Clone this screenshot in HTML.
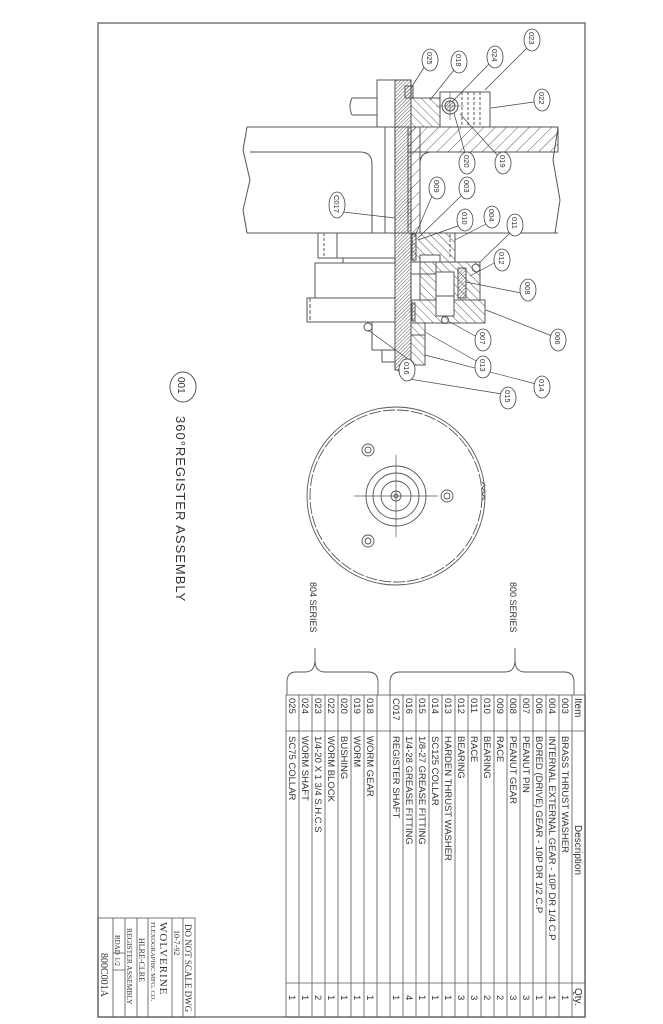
<!DOCTYPE html>
<html><head><meta charset="utf-8"><style>
html,body{margin:0;padding:0;background:#fff;}
svg{display:block;}
text{fill:#333;}
</style></head><body>
<svg width="663" height="1024" viewBox="0 0 663 1024" xmlns="http://www.w3.org/2000/svg" font-family="Liberation Sans, sans-serif">
<defs>
<pattern id="h1" patternUnits="userSpaceOnUse" width="8" height="8" patternTransform="rotate(45)"><line x1="0" y1="0" x2="0" y2="8" stroke="#333" stroke-width="0.8"/></pattern>
<pattern id="h2" patternUnits="userSpaceOnUse" width="6" height="6" patternTransform="rotate(-45)"><line x1="0" y1="0" x2="0" y2="6" stroke="#333" stroke-width="0.8"/></pattern>
<pattern id="hd" patternUnits="userSpaceOnUse" width="2.5" height="2.5" patternTransform="rotate(45)"><line x1="0" y1="0" x2="0" y2="2.5" stroke="#444" stroke-width="0.9"/></pattern>
</defs>
<g fill="none" stroke="#555" stroke-width="1">
<rect x="98" y="23" width="487" height="994" stroke="#777" stroke-width="1.5"/>
<path d="M247 127 L558 127"/>
<path d="M247 233 L558 233"/>
<path d="M247 127 L243 150 L250 180 L243 210 L247 233"/>
<path d="M558 127 L553 160 L560 200 L555 233"/>
<path d="M250 152 L360 152 Q372 152 372 164 L372 233"/>
<path d="M385 127 L385 233"/>
<rect x="408" y="127" width="150" height="25" fill="url(#h1)"/>
<rect x="408" y="127" width="12" height="106" fill="url(#h1)"/>
<path d="M420 233 L420 164 Q420 152 432 152 L558 152"/>
<rect x="395" y="80" width="16" height="290" fill="url(#hd)" stroke="#444"/>
<path d="M398 370 L403 378 L408 370"/>
<rect x="377" y="80" width="18" height="47"/>
<path d="M352 98 L377 98 M352 115 L377 115 M352 98 Q348 106 352 115"/>
<rect x="405" y="86" width="8" height="12" fill="url(#hd)"/>
<path d="M411 98 L448 98 L448 127 L411 127 Z" fill="url(#h2)"/>
<rect x="440" y="92" width="50" height="35" fill="#fff"/>
<path d="M462 92 L462 127 M468 92 L468 127 M474 92 L474 127 M480 92 L480 127" stroke-dasharray="3 2"/>
<circle cx="450" cy="106" r="8"/><circle cx="450" cy="106" r="5" fill="url(#hd)"/>
<path d="M436 106 L464 106 M450 92 L450 120" stroke-width="0.6"/>
<rect x="337" y="233" width="58" height="25"/>
<path d="M318 233 L318 258 M324 233 L324 258" stroke-dasharray="3 2"/>
<rect x="318" y="233" width="19" height="25"/>
<rect x="315" y="263" width="80" height="35"/>
<path d="M343 258 L343 263"/>
<rect x="307" y="298" width="88" height="24"/>
<path d="M310 298 L310 322" stroke-dasharray="4 2"/>
<rect x="372" y="322" width="23" height="28"/>
<rect x="382" y="350" width="13" height="12"/>
<circle cx="368" cy="327" r="4"/>
<path d="M411 233 L455 233 L455 262 L440 262 L440 255 L420 255 L420 262 L411 262 Z" fill="url(#h2)"/>
<rect x="412" y="234" width="4" height="26" fill="url(#hd)"/>
<path d="M450 234 L450 258" stroke-dasharray="3 2"/>
<rect x="411" y="262" width="25" height="12"/>
<path d="M420 262 L480 262 L480 300 L420 300 Z" fill="url(#h2)"/>
<rect x="436" y="272" width="18" height="40" fill="#fff"/>
<rect x="458" y="268" width="8" height="30" fill="url(#hd)"/>
<circle cx="476" cy="268" r="4"/>
<path d="M411 300 L485 300 L485 323 L411 323 Z" fill="url(#h2)"/>
<rect x="436" y="296" width="18" height="20" fill="#fff"/>
<circle cx="445" cy="320" r="3.5"/>
<rect x="411" y="323" width="14" height="12" fill="url(#h2)"/>
<rect x="411" y="335" width="14" height="30" fill="url(#h2)"/>
<rect x="412" y="303" width="3" height="18" fill="url(#hd)"/>
<g stroke="#444" stroke-width="0.7">
<line x1="425" y1="66" x2="411" y2="88"/>
<line x1="454" y1="70" x2="430" y2="100"/>
<line x1="490" y1="63" x2="452" y2="102"/>
<line x1="527" y1="48" x2="485" y2="90"/>
<line x1="534" y1="102" x2="491" y2="108"/>
<line x1="465" y1="153" x2="454" y2="113"/>
<line x1="498" y1="156" x2="460" y2="114"/>
<line x1="343" y1="212" x2="395" y2="218"/>
<line x1="432" y1="196" x2="415" y2="236"/>
<line x1="461" y1="196" x2="418" y2="238"/>
<line x1="458" y1="226" x2="418" y2="240"/>
<line x1="486" y1="224" x2="455" y2="240"/>
<line x1="510" y1="233" x2="480" y2="262"/>
<line x1="496" y1="262" x2="470" y2="276"/>
<line x1="521" y1="293" x2="466" y2="282"/>
<line x1="552" y1="336" x2="486" y2="310"/>
<line x1="477" y1="337" x2="450" y2="322"/>
<line x1="478" y1="362" x2="425" y2="332"/>
<line x1="536" y1="384" x2="425" y2="355"/>
<line x1="502" y1="394" x2="403" y2="378"/>
<line x1="412" y1="362" x2="368" y2="330"/>
</g>
</g>
<g fill="#fff" stroke="#444" stroke-width="0.8">
<ellipse cx="430" cy="60" rx="8" ry="11"/><ellipse cx="459" cy="62" rx="8" ry="11"/>
<ellipse cx="495" cy="57" rx="8" ry="11"/><ellipse cx="532" cy="40" rx="8" ry="11"/>
<ellipse cx="542" cy="100" rx="8" ry="11"/><ellipse cx="467" cy="163" rx="8" ry="11"/>
<ellipse cx="503" cy="163" rx="8" ry="11"/><ellipse cx="337" cy="205" rx="8" ry="13"/>
<ellipse cx="437" cy="188" rx="8" ry="11"/><ellipse cx="467" cy="188" rx="8" ry="11"/>
<ellipse cx="465" cy="220" rx="8" ry="11"/><ellipse cx="492" cy="217" rx="8" ry="11"/>
<ellipse cx="515" cy="225" rx="8" ry="11"/><ellipse cx="502" cy="260" rx="8" ry="11"/>
<ellipse cx="528" cy="290" rx="8" ry="11"/><ellipse cx="558" cy="340" rx="8" ry="11"/>
<ellipse cx="483" cy="340" rx="8" ry="11"/><ellipse cx="483" cy="367" rx="8" ry="11"/>
<ellipse cx="542" cy="387" rx="8" ry="11"/><ellipse cx="508" cy="398" rx="8" ry="11"/>
<ellipse cx="407" cy="370" rx="8" ry="11"/>
</g>
<g font-size="7.5">
<text transform="translate(427,52) rotate(90)">025</text>
<text transform="translate(456,54) rotate(90)">018</text>
<text transform="translate(492,49) rotate(90)">024</text>
<text transform="translate(529,32) rotate(90)">023</text>
<text transform="translate(539,92) rotate(90)">022</text>
<text transform="translate(464,155) rotate(90)">020</text>
<text transform="translate(500,155) rotate(90)">019</text>
<text transform="translate(334,195) rotate(90)">C017</text>
<text transform="translate(434,180) rotate(90)">009</text>
<text transform="translate(464,180) rotate(90)">003</text>
<text transform="translate(462,212) rotate(90)">010</text>
<text transform="translate(489,209) rotate(90)">004</text>
<text transform="translate(512,217) rotate(90)">011</text>
<text transform="translate(499,252) rotate(90)">012</text>
<text transform="translate(525,282) rotate(90)">008</text>
<text transform="translate(555,332) rotate(90)">006</text>
<text transform="translate(480,332) rotate(90)">007</text>
<text transform="translate(480,359) rotate(90)">013</text>
<text transform="translate(539,379) rotate(90)">014</text>
<text transform="translate(505,390) rotate(90)">015</text>
<text transform="translate(404,362) rotate(90)">016</text>
</g>
<ellipse cx="183" cy="387" rx="13" ry="15" fill="none" stroke="#555"/>
<text transform="translate(178,377) rotate(90)" font-size="10">001</text>
<text transform="translate(176,416) rotate(90)" font-size="13" letter-spacing="1">360°REGISTER ASSEMBLY</text>
<g fill="none" stroke="#555" stroke-width="0.9">
<circle cx="396" cy="496" r="89"/><circle cx="396" cy="496" r="86" stroke-dasharray="12 2"/>
<circle cx="396" cy="496" r="30"/><circle cx="396" cy="496" r="23"/><circle cx="396" cy="496" r="15"/>
<circle cx="396" cy="496" r="5"/><circle cx="396" cy="496" r="2"/>
<path d="M354 496 L438 496 M396 455 L396 537" stroke-width="0.7"/>
<circle cx="368" cy="450" r="6"/><circle cx="368" cy="450" r="3"/>
<circle cx="368" cy="541" r="6"/><circle cx="368" cy="541" r="3"/>
<circle cx="447" cy="496" r="6"/><circle cx="447" cy="496" r="3"/>
<path d="M482 482 l3 3 l-3 3 l3 3 l-3 3 l3 3 l-3 3"/>
</g>
<text transform="translate(510,582) rotate(90)" font-size="9">800 SERIES</text>
<text transform="translate(310,582) rotate(90)" font-size="9">804 SERIES</text>
<g fill="none" stroke="#555" stroke-width="0.9">
<path d="M390 695 L390 682 Q390 672 400 672 L505 672 Q515 672 515 660 L515 648 M515 660 Q515 672 525 672 L564 672 Q574 672 574 682 L574 695"/>
<path d="M378 695 L378 682 Q378 672 368 672 L325 672 Q315 672 315 660 L315 648 M315 660 Q315 672 305 672 L296 672 Q287 672 287 682 L287 695"/>
</g>
<g stroke="#555" stroke-width="0.8" fill="none">
<rect x="286" y="695" width="299" height="322"/>
<line x1="286" y1="731" x2="585" y2="731"/>
<line x1="286" y1="983" x2="585" y2="983"/>
<path d="M572 695V1017 M559 695V1017 M546 695V1017 M533 695V1017 M520 695V1017 M507 695V1017 M494 695V1017 M481 695V1017 M468 695V1017 M455 695V1017 M442 695V1017 M429 695V1017 M416 695V1017 M403 695V1017 M390 695V1017 M377 695V1017 M364 695V1017 M351 695V1017 M338 695V1017 M325 695V1017 M312 695V1017 M299 695V1017"/>
</g>
<g font-size="9.5">
<text transform="translate(575,698) rotate(90)" font-size="10">Item</text>
<text transform="translate(575,825) rotate(90)" font-size="10">Description</text>
<text transform="translate(575,988) rotate(90)" font-size="10">Qty.</text>
<text transform="translate(562,698) rotate(90)">003</text><text transform="translate(562,736) rotate(90)">BRASS THRUST WASHER</text><text transform="translate(562,995) rotate(90)">1</text>
<text transform="translate(549,698) rotate(90)">004</text><text transform="translate(549,736) rotate(90)">INTERNAL EXTERNAL GEAR - 10P DR 1/4 C.P</text><text transform="translate(549,995) rotate(90)">1</text>
<text transform="translate(536,698) rotate(90)">006</text><text transform="translate(536,736) rotate(90)">BORED (DRIVE) GEAR - 10P DR 1/2 C.P</text><text transform="translate(536,995) rotate(90)">1</text>
<text transform="translate(523,698) rotate(90)">007</text><text transform="translate(523,736) rotate(90)">PEANUT PIN</text><text transform="translate(523,995) rotate(90)">3</text>
<text transform="translate(510,698) rotate(90)">008</text><text transform="translate(510,736) rotate(90)">PEANUT GEAR</text><text transform="translate(510,995) rotate(90)">3</text>
<text transform="translate(497,698) rotate(90)">009</text><text transform="translate(497,736) rotate(90)">RACE</text><text transform="translate(497,995) rotate(90)">2</text>
<text transform="translate(484,698) rotate(90)">010</text><text transform="translate(484,736) rotate(90)">BEARING</text><text transform="translate(484,995) rotate(90)">2</text>
<text transform="translate(471,698) rotate(90)">011</text><text transform="translate(471,736) rotate(90)">RACE</text><text transform="translate(471,995) rotate(90)">3</text>
<text transform="translate(458,698) rotate(90)">012</text><text transform="translate(458,736) rotate(90)">BEARING</text><text transform="translate(458,995) rotate(90)">3</text>
<text transform="translate(445,698) rotate(90)">013</text><text transform="translate(445,736) rotate(90)">HARDEN THRUST WASHER</text><text transform="translate(445,995) rotate(90)">1</text>
<text transform="translate(432,698) rotate(90)">014</text><text transform="translate(432,736) rotate(90)">SC125 COLLAR</text><text transform="translate(432,995) rotate(90)">1</text>
<text transform="translate(419,698) rotate(90)">015</text><text transform="translate(419,736) rotate(90)">1/8-27 GREASE FITTING</text><text transform="translate(419,995) rotate(90)">1</text>
<text transform="translate(406,698) rotate(90)">016</text><text transform="translate(406,736) rotate(90)">1/4-28 GREASE FITTING</text><text transform="translate(406,995) rotate(90)">4</text>
<text transform="translate(393,698) rotate(90)">C017</text><text transform="translate(393,736) rotate(90)">REGISTER SHAFT</text><text transform="translate(393,995) rotate(90)">1</text>
<text transform="translate(367,698) rotate(90)">018</text><text transform="translate(367,736) rotate(90)">WORM GEAR</text><text transform="translate(367,995) rotate(90)">1</text>
<text transform="translate(354,698) rotate(90)">019</text><text transform="translate(354,736) rotate(90)">WORM</text><text transform="translate(354,995) rotate(90)">1</text>
<text transform="translate(341,698) rotate(90)">020</text><text transform="translate(341,736) rotate(90)">BUSHING</text><text transform="translate(341,995) rotate(90)">1</text>
<text transform="translate(328,698) rotate(90)">022</text><text transform="translate(328,736) rotate(90)">WORM BLOCK</text><text transform="translate(328,995) rotate(90)">1</text>
<text transform="translate(315,698) rotate(90)">023</text><text transform="translate(315,736) rotate(90)">1/4-20 X 1 3/4 S.H.C.S</text><text transform="translate(315,995) rotate(90)">2</text>
<text transform="translate(302,698) rotate(90)">024</text><text transform="translate(302,736) rotate(90)">WORM SHAFT</text><text transform="translate(302,995) rotate(90)">1</text>
<text transform="translate(289,698) rotate(90)">025</text><text transform="translate(289,736) rotate(90)">SC75 COLLAR</text><text transform="translate(289,995) rotate(90)">1</text>
</g>
<g stroke="#555" stroke-width="0.8" fill="none">
<rect x="98" y="918" width="97" height="99"/>
<path d="M183 918V1017 M172 918V1017 M148 918V1017 M137 918V1017 M125 918V1017 M113 918V1017"/>
<path d="M113 953 L125 953 M113 970 L125 970"/>
</g>
<g font-family="Liberation Serif, serif">
<text transform="translate(185,924) rotate(90)" font-size="9">DO NOT SCALE DWG</text>
<text transform="translate(174,930) rotate(90)" font-size="8">10-7-92</text>
<text transform="translate(160,922) rotate(90)" font-size="11" letter-spacing="1">WOLVERINE</text>
<text transform="translate(151,922) rotate(90)" font-size="6.5">FLEXOGRAPHIC MFG. CO.</text>
<text transform="translate(139,938) rotate(90)" font-size="8">HLRE-CLRE</text>
<text transform="translate(127,928) rotate(90)" font-size="7.5">REGISTER ASSEMBLY</text>
<text transform="translate(115,935) rotate(90)" font-size="7">RDAD</text>
<text transform="translate(115,957) rotate(90)" font-size="7">1/2</text>
<text transform="translate(101,953) rotate(90)" font-size="10">800C001A</text>
</g>
</svg>
</body></html>
